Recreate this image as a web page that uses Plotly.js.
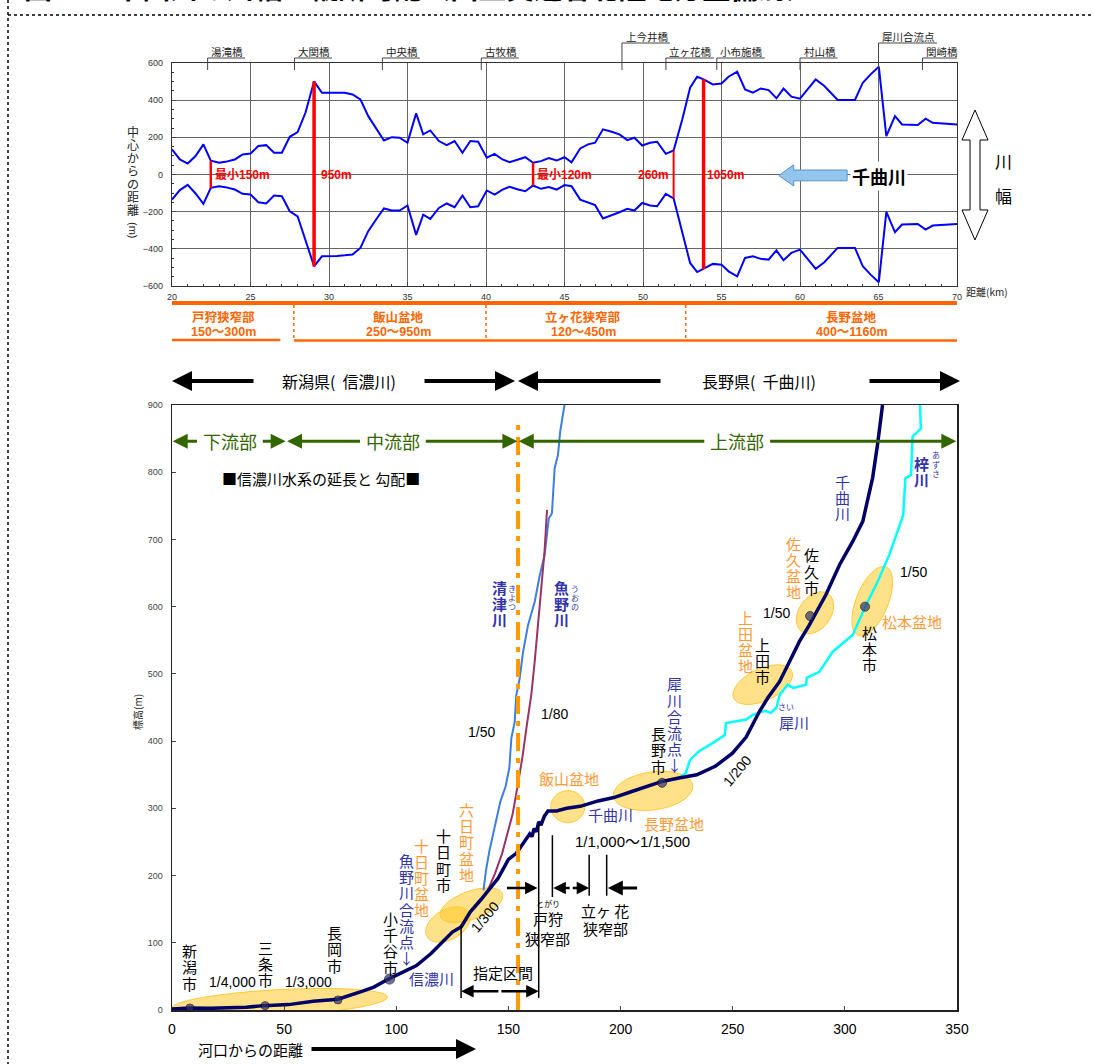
<!DOCTYPE html>
<html><head><meta charset="utf-8">
<script src="https://cdn.plot.ly/plotly-3.0.1.min.js"></script>
<style>body{margin:0;background:#fff}#chart{width:1094px;height:1064px}</style>
</head><body><div id="chart"></div>
<script>
// ---------- DATA: river width (top chart) ----------
const widthKm = [20,20.5,21,21.5,22,22.47,23,23.4,24,24.5,25,25.5,26,26.5,27,27.5,28,28.5,29.05,29.55,
30,30.5,31,31.5,32,32.5,33,33.5,34,34.5,35,35.55,36,36.45,37,37.5,38,38.5,39,39.5,
40.05,40.55,41.05,41.5,42.05,42.5,43.0,43.5,44,44.5,45,45.45,46,46.5,46.95,47.45,48,48.5,49,49.45,
49.95,50.45,50.9,51.45,51.95,52.5,53,53.45,53.86,54.45,55,55.45,56,56.5,57,57.5,58,58.5,58.95,59.45,
60,60.5,61,61.55,62.4,63.5,64,64.5,65.02,65.5,66.05,66.5,67.5,68,68.45,70];
const bankUpper = [135,81,59,99,162,74,63,68,81,108,113,153,158,117,117,203,228,332,501,440,
440,440,440,431,404,314,251,183,201,198,171,329,216,237,180,158,180,117,180,176,
90,111,81,66,81,93,63,72,88,75,93,66,140,162,171,243,230,216,185,198,
156,171,176,111,129,296,467,526,512,485,490,526,553,458,440,463,454,410,462,419,
408,458,512,476,401,401,494,539,580,207,314,269,266,300,278,269];
const bankLower = [-135,-84,-56,-102,-158,-72,-63,-68,-81,-104,-108,-149,-156,-113,-117,-198,-225,-350,-494,-440,
-440,-438,-435,-431,-395,-305,-242,-183,-194,-194,-167,-325,-216,-239,-180,-156,-176,-113,-176,-171,
-86,-108,-81,-66,-81,-90,-59,-77,-68,-81,-57,-63,-135,-153,-165,-237,-221,-203,-185,-194,
-153,-167,-171,-104,-129,-305,-476,-525,-508,-481,-485,-521,-548,-449,-440,-454,-458,-408,-462,-422,
-404,-458,-508,-472,-395,-395,-494,-539,-580,-201,-311,-269,-266,-296,-275,-266];
const narrowKm = [22.47, 29.05, 43.0, 51.95, 53.86];
const narrowTop = [74, 501, 63, 129, 512];
const narrowBottom = [-72, -494, -59, -129, -508];
const narrowLabels = ['最小150m','950m','最小120m','260m','1050m'];
const bridgeNames = ['湯滝橋','大関橋','中央橋','古牧橋','上今井橋','立ヶ花橋','小布施橋','村山橋','犀川合流点','関崎橋'];
const bridgeKm = [22.27, 27.8, 33.4, 39.7, 48.66, 51.46, 54.7, 60.0, 65.0, 67.8];
const reachNames = ['戸狩狭窄部','飯山盆地','立ヶ花狭窄部','長野盆地'];
const reachRanges = ['150～300m','250～950m','120～450m','400～1160m'];
const reachBounds = [20, 27.76, 40.0, 52.72, 70];

// ---------- DATA: longitudinal profile (bottom chart) ----------
const mainX = [0,8,17,33,41,52,63,74,85,90,96.5,103,109,115.5,120,125,129,133,137.7,141,
145.4,150,153.5,156,158,159.5,160.5,161.5,162.5,163.5,164.5,166,167.6,171.4,176,182,190,197,205,214,
218.5,226,234,242.4,249.9,256,261.9,265.6,270.8,275.3,279.7,284.2,291.6,297.6,303.5,308,312.4,314.6,316.8];
const mainY = [1.5,3,2.5,4,6.5,8,13,16,28,34,46,57,66,84,98.5,116,124,146,164,178,
196,224,233,245,255,262,258,270,265,280,275,288,296,296,300,303,311,316,325,335,
340,345,350,363,382,406,444,464,488,518,548,573,618,662,697,727,792,842,900];
const kiyotsuX = [138.9,140,141.6,144,146.4,148.7,150.4,151.3,152.8,153.5,155,156.5,158.7,161.7,164,166.1,168,169.4,169.9,170.6,172.1,173.1,175];
const kiyotsuY = [178,208,238,273,310,332,360,404,429,468,493,532,572,607,647,676,731,739,771,806,826,861,900];
const uonoX = [136,137.7,140.8,144,147.2,150.3,151.9,153.5,155.4,156.2,158,160.2,161.7,163.2,164.7,166.1,167.2];
const uonoY = [158,163,178,203,233,273,292,322,360,375,419,469,518,578,637,682,744];
const saiX = [226,229,231,235,241,246.5,247,256,259,264.5,267,269.5,271,274.5,277,282.7,283,288.6,294.6,299.8,303.5,309.1,314.6,319.8,326,327,329.5,330.2,333.9,333.5];
const saiY = [345,352,372,385,397,409,427,432,439,445,442,450,469,484,479,484,494,503,533,548,558,600,637,677,736,791,796,853,865,900];
const cityNames = ['新潟','三条','長岡','小千谷','長野','佐久','松本'];
const cityX = [8, 41.5, 74, 97, 218.5, 284.5, 309];
const cityY = [3, 6.5, 15, 46, 338, 586, 600];

// ---------- layout helpers ----------
const L=172, R=957, T=63, B=1010;
const PX = p => (p-L)/(R-L);
const PY = p => (B-p)/(B-T);
const bxs = (R-L)/350, bys = (B-405)/900;
const FJ = '"Noto Sans CJK JP", sans-serif';
const FN = '"Liberation Sans", "Noto Sans CJK JP", sans-serif';
const BLUE = '#3333AA', ORANGE = '#FF9933', GREEN = '#336600', NAVY = '#000066';

const annotations = [], shapes = [];
function A(o){ annotations.push(Object.assign({showarrow:false, xanchor:'center', yanchor:'middle'}, o)); }
function t2(x,y,text,size,color,extra){ A(Object.assign({x,y,xref:'x2',yref:'y2',text,font:{size,color,family:FJ}}, extra||{})); }
function v2(x,y,text,size,color,weight,sp){
  const ch = Array.from(text), n = ch.length, s = size*(sp||1.08);
  ch.forEach((c,i)=>A({x,y,xref:'x2',yref:'y2',text:c,font:{size,color,family:FJ,weight:weight||'normal'},yshift:((n-1)/2-i)*s}));
}
function arrow2(x0,x1,y,color,w){
  A({x:x1,y,ax:x0,ay:y,xref:'x2',yref:'y2',axref:'x2',ayref:'y2',text:'',showarrow:true,arrowhead:2,arrowsize:1,arrowwidth:w,arrowcolor:color});
}
function arrowP(px0,px1,py,w){
  A({x:PX(px1),y:PY(py),ax:PX(px0),ay:PY(py),xref:'paper',yref:'paper',axref:'paper',ayref:'paper',text:'',showarrow:true,arrowhead:2,arrowsize:1,arrowwidth:w,arrowcolor:'#000'});
}
function ellPath(cx,cy,rx,ry,ang){
  const a = ang*Math.PI/180; let p='';
  for(let i=0;i<=48;i++){
    const t=i/48*2*Math.PI, dx=rx*Math.cos(t), dy=ry*Math.sin(t);
    const X=cx+(dx*Math.cos(a)-dy*Math.sin(a))/bxs, Y=cy+(dx*Math.sin(a)+dy*Math.cos(a))/bys;
    p += (i?'L':'M')+X.toFixed(2)+','+Y.toFixed(2);
  }
  return p+'Z';
}

// ---------- page frame & title ----------
shapes.push({type:'line',xref:'paper',yref:'paper',x0:PX(8),x1:PX(8),y0:PY(0),y1:PY(1064),line:{color:'#000',width:1.5,dash:'dot'}});
shapes.push({type:'line',xref:'paper',yref:'paper',x0:PX(8),x1:PX(1094),y0:PY(15),y1:PY(15),line:{color:'#000',width:1.5,dash:'dot'}});
A({xref:'paper',yref:'paper',x:PX(22),y:PY(9),xanchor:'left',yanchor:'bottom',text:'図５　 千曲川の川幅と縦断勾配（国土交通省北陸地方整備局）',font:{size:28,family:FJ,color:'#000',weight:'bold'}});

// ---------- top chart decorations ----------
bridgeNames.forEach((nm,i)=>{
  const high = (nm==='上今井橋'||nm==='犀川合流点');
  const pyT = high?36:51, pyU = high?43:58;
  const endKm = bridgeKm[i] + (Array.from(nm).length*10.5+6)/15.7;
  A({x:bridgeKm[i]+0.1,y:PY(pyT),xref:'x',yref:'paper',xanchor:'left',text:nm,font:{size:10.5,color:'#222',family:FJ}});
  shapes.push({type:'line',xref:'x',yref:'paper',x0:bridgeKm[i],x1:endKm,y0:PY(pyU),y1:PY(pyU),line:{color:'#444',width:1}});
  shapes.push({type:'line',xref:'x',yref:'paper',x0:bridgeKm[i],x1:bridgeKm[i],y0:PY(pyU),y1:PY(70),line:{color:'#444',width:1}});
});
const narrowAnchor = ['left','left','left','right','left'];
const narrowDx = [0.12,0.3,0.12,-0.15,0.12];
narrowLabels.forEach((s,i)=>A({x:narrowKm[i]+narrowDx[i],y:0,xref:'x',yref:'y',xanchor:narrowAnchor[i],text:s,font:{size:12,color:'#FF0000',family:FN,weight:'bold'}}));
// 千曲川 flow arrow
shapes.push({type:'path',xref:'x',yref:'y',path:'M58.65,-5 L59.6,52 L59.6,24 L63,24 L63,-34 L59.6,-34 L59.6,-62 Z',fillcolor:'#92C6EE',line:{color:'#5A8FC8',width:1}});
A({x:65,y:-8,xref:'x',yref:'y',text:'千曲川',bgcolor:'#fff',font:{size:18,color:'#000',family:FJ,weight:'bold'}});
// 川幅 hollow double arrow
const ap = [[975,110],[988,140],[980,140],[980,210],[988,210],[975,240],[962,210],[970,210],[970,140],[962,140]];
shapes.push({type:'path',xref:'paper',yref:'paper',path:ap.map((q,i)=>(i?'L':'M')+PX(q[0]).toFixed(4)+','+PY(q[1]).toFixed(4)).join('')+'Z',fillcolor:'#fff',line:{color:'#000',width:1}});
A({xref:'paper',yref:'paper',x:PX(1003),y:PY(160),text:'川',font:{size:17,family:FJ,color:'#000'}});
A({xref:'paper',yref:'paper',x:PX(1003),y:PY(195),text:'幅',font:{size:17,family:FJ,color:'#000'}});
A({xref:'paper',yref:'paper',x:PX(987),y:PY(291),text:'距離(km)',font:{size:10,family:FJ,color:'#222'}});
// y title of top chart (vertical)
Array.from('中心からの距離').forEach((c,i)=>A({xref:'paper',yref:'paper',x:PX(133),y:PY(131+i*13),text:c,font:{size:12,family:FJ,color:'#222'}}));
A({xref:'paper',yref:'paper',x:PX(133),y:PY(230),text:'(m)',textangle:90,font:{size:11,family:FN,color:'#222'}});
// reach band
shapes.push({type:'line',xref:'x',yref:'paper',x0:20,x1:70,y0:PY(303),y1:PY(303),line:{color:'#FF6600',width:4}});
shapes.push({type:'line',xref:'x',yref:'paper',x0:20,x1:26.9,y0:PY(340),y1:PY(340),line:{color:'#FF6600',width:2.5}});
shapes.push({type:'line',xref:'x',yref:'paper',x0:27.76,x1:70,y0:PY(340.5),y1:PY(340.5),line:{color:'#FF6600',width:2.5}});
reachBounds.slice(1,-1).forEach(b=>shapes.push({type:'line',xref:'x',yref:'paper',x0:b,x1:b,y0:PY(305),y1:PY(339),line:{color:'#FF6600',width:1.5,dash:'dot'}}));
reachNames.forEach((nm,i)=>{
  const c = [23.3,34.4,46.2,63.3][i];
  A({x:c,y:PY(316),xref:'x',yref:'paper',text:nm,font:{size:12.5,color:'#FF6600',family:FJ,weight:'bold'}});
  A({x:c,y:PY(332),xref:'x',yref:'paper',text:reachRanges[i],font:{size:12.5,color:'#FF6600',family:FN,weight:'bold'}});
});
// prefecture arrows
arrowP(255,172,381,4); arrowP(423,515,381,4); arrowP(662,518,381,4); arrowP(868,960,381,4);
A({xref:'paper',yref:'paper',x:PX(339),y:PY(381),text:'新潟県(  信濃川)',font:{size:16,family:FJ,color:'#000'}});
A({xref:'paper',yref:'paper',x:PX(759),y:PY(381),text:'長野県(  千曲川)',font:{size:16,family:FJ,color:'#000'}});

// ---------- bottom chart decorations ----------
const basins = [[48,11,108,13,3],[123,127,24,15,30],[133.5,156,33,14,20],[176.5,302.5,17,16,0],[214.5,326,40,19,8],[263.4,484,32,16,25],[286.7,591,23,16,55],[312.2,608,37,16,68]];
basins.forEach(b=>shapes.push({type:'path',xref:'x2',yref:'y2',layer:'below',path:ellPath(...b),fillcolor:'rgba(255,200,40,0.55)',line:{color:'rgba(255,195,40,0.9)',width:1}}));
shapes.push({type:'line',xref:'x2',yref:'y2',x0:154.3,x1:154.3,y0:0,y1:880,line:{color:'#FF9900',width:4,dash:'18px,7px,5px,7px'}});
[[128.9,18,127],[163.5,18,275],[169.6,168,260],[186,170,231],[193.8,170,231]].forEach(v=>shapes.push({type:'line',xref:'x2',yref:'y2',x0:v[0],x1:v[0],y0:v[1],y1:v[2],line:{color:'#000',width:1.5}}));
arrow2(146.2,128.9,28,'#000',2.5); arrow2(146.2,163.5,28,'#000',2.5);
arrow2(148.7,163,181.6,'#000',2.5);
arrow2(178,170,181.6,'#000',2.5); arrow2(178,186,181.6,'#000',2.5);
arrow2(208,194.3,181.6,'#000',3);
// green reach arrows
[[0,51,25.8,'下流部'],[51,154.3,98.5,'中流部'],[154.3,350,252,'上流部']].forEach(g=>{
  const hw = 14;
  arrow2(g[2]-hw,g[0]+0.3,846,GREEN,3); arrow2(g[2]+hw,g[1]-0.3,846,GREEN,3);
  t2(g[2],846,g[3],18,GREEN);
});
t2(66.5,791,'■信濃川水系の延長と 勾配■',15,'#000');
v2(8,64,'新潟市',15,'#000'); t2(27,41,'1/4,000',14,'#000',{font:{size:14,color:'#000',family:FN}});
v2(41.5,69,'三条市',15,'#000'); t2(61,41,'1/3,000',14,'#000',{font:{size:14,color:'#000',family:FN}});
v2(72.5,91,'長岡市',15,'#000');
v2(97.5,100,'小千谷市',15,'#000');
v2(104.4,150,'魚野川合流点↓',15,BLUE);
v2(111.3,197,'十日町盆地',15,ORANGE);
v2(121,223,'十日町市',15,'#000');
v2(131.3,250,'六日町盆地',15,ORANGE);
t2(139.4,139,'1/300',14,'#000',{textangle:-50,font:{size:14,color:'#000',family:FN}});
t2(115.7,47,'信濃川',15,BLUE);
t2(147.6,55.5,'指定区間',15,'#000');
t2(167.6,158,'とがり',8,'#000');
t2(167.6,135.5,'戸狩',15,'#000');
t2(167.6,107,'狭窄部',15,'#000');
t2(193.2,148,'立ヶ 花',15,'#000');
t2(193.2,121,'狭窄部',15,'#000');
t2(205.3,251,'1/1,000～1/1,500',15,'#000',{font:{size:15,color:'#000',family:FN}});
t2(177,345,'飯山盆地',15,ORANGE);
t2(195.7,291,'千曲川',15,BLUE);
t2(223.9,277.6,'長野盆地',15,ORANGE);
v2(216.9,387,'長野市',15,'#000');
v2(223.9,425,'犀川合流点↓',15,BLUE);
t2(252,355,'1/200',14,'#000',{textangle:-50,font:{size:14,color:'#000',family:FN}});
t2(277.3,428,'犀川',15,BLUE); t2(273.8,451,'さい',8,BLUE);
v2(255.5,548,'上田盆地',15,ORANGE);
v2(263.4,520,'上田市',15,'#000');
v2(277.2,658,'佐久盆地',15,ORANGE);
v2(285,653,'佐久市',15,'#000');
t2(269.3,590,'1/50',14,'#000',{font:{size:14,color:'#000',family:FN}});
t2(330.5,652,'1/50',14,'#000',{font:{size:14,color:'#000',family:FN}});
t2(330,578,'松本盆地',15,ORANGE);
v2(311.2,538,'松本市',15,'#000');
v2(299,762,'千曲川',15,BLUE);
v2(334,801,'梓川',15,BLUE,'bold'); v2(340.5,812,'あずさ',8,BLUE,'normal',1.15);
v2(145.8,605,'清津川',15,BLUE,'bold'); v2(151.5,614,'きよつ',8,BLUE,'normal',1.15);
v2(173.6,605,'魚野川',15,BLUE,'bold'); v2(179.5,614,'うおの',8,BLUE,'normal',1.15);
t2(170.6,440,'1/80',14,'#000',{font:{size:14,color:'#000',family:FN}});
t2(138,414,'1/50',14,'#000',{font:{size:14,color:'#000',family:FN}});
A({xref:'paper',yref:'paper',x:PX(137),y:PY(712),text:'標高(m)',textangle:-90,font:{size:10,family:FJ,color:'#222'}});
A({xref:'paper',yref:'paper',x:PX(250),y:PY(1049),text:'河口からの距離',font:{size:15,family:FJ,color:'#000'}});
arrowP(310,476,1049,4);

// ---------- traces ----------
const traces = [
  {x:widthKm,y:bankUpper,xaxis:'x',yaxis:'y',mode:'lines',line:{color:'#0000FF',width:2}},
  {x:widthKm,y:bankLower,xaxis:'x',yaxis:'y',mode:'lines',line:{color:'#0000FF',width:2}}
];
const narrowW = [2.5,3.5,2.5,2,3.5];
narrowKm.forEach((k,i)=>traces.push({x:[k,k],y:[narrowTop[i],narrowBottom[i]],xaxis:'x',yaxis:'y',mode:'lines',line:{color:'#FF0000',width:narrowW[i]}}));
traces.push({x:kiyotsuX,y:kiyotsuY,xaxis:'x2',yaxis:'y2',mode:'lines',line:{color:'#3D7FE0',width:2}});
traces.push({x:uonoX,y:uonoY,xaxis:'x2',yaxis:'y2',mode:'lines',line:{color:'#993366',width:2}});
traces.push({x:saiX,y:saiY,xaxis:'x2',yaxis:'y2',mode:'lines',line:{color:'#00FFFF',width:2.5}});
traces.push({x:mainX,y:mainY,xaxis:'x2',yaxis:'y2',mode:'lines',line:{color:NAVY,width:3.5}});
traces.push({x:cityX,y:cityY,text:cityNames,xaxis:'x2',yaxis:'y2',mode:'markers',marker:{color:'#333366',size:[8,8,8,10,9,9,9],line:{color:'#000033',width:1}}});

const layout = {
  width:1094, height:1064, showlegend:false,
  margin:{l:L,r:1094-R,t:T,b:1064-B},
  paper_bgcolor:'#fff', plot_bgcolor:'#fff',
  font:{family:FJ,color:'#000'},
  xaxis:{domain:[0,1],anchor:'y',range:[20,70],dtick:5,ticks:'inside',ticklen:4,showgrid:true,gridcolor:'#666',gridwidth:1,
    showline:true,mirror:true,linecolor:'#333',linewidth:1.2,zeroline:false,tickfont:{size:9,color:'#333',family:FN},
    minor:{dtick:1,ticks:'inside',ticklen:2,tickcolor:'#333',showgrid:false},ticklabelstandoff:2},
  yaxis:{domain:[PY(286),1],anchor:'x',range:[-600,600],dtick:200,ticks:'inside',ticklen:4,showgrid:true,gridcolor:'#666',gridwidth:1,
    showline:true,mirror:true,linecolor:'#333',linewidth:1.2,zeroline:false,tickfont:{size:9,color:'#333',family:FN},
    minor:{dtick:50,ticks:'inside',ticklen:2,tickcolor:'#333',showgrid:false},ticklabelstandoff:6},
  xaxis2:{domain:[0,1],anchor:'y2',range:[0,350],dtick:50,ticks:'inside',ticklen:4,showgrid:false,showline:true,mirror:true,
    linecolor:'#222',linewidth:1.5,zeroline:false,tickfont:{size:14,color:'#000',family:FN},ticklabelstandoff:6},
  yaxis2:{domain:[0,PY(405)],anchor:'x2',range:[0,900],dtick:100,ticks:'inside',ticklen:4,showgrid:false,showline:true,mirror:true,
    linecolor:'#222',linewidth:1.5,zeroline:false,tickfont:{size:9,color:'#444',family:FN},ticklabelstandoff:6},
  annotations, shapes
};
Plotly.newPlot('chart', traces, layout, {staticPlot:true, displayModeBar:false});
</script></body></html>
